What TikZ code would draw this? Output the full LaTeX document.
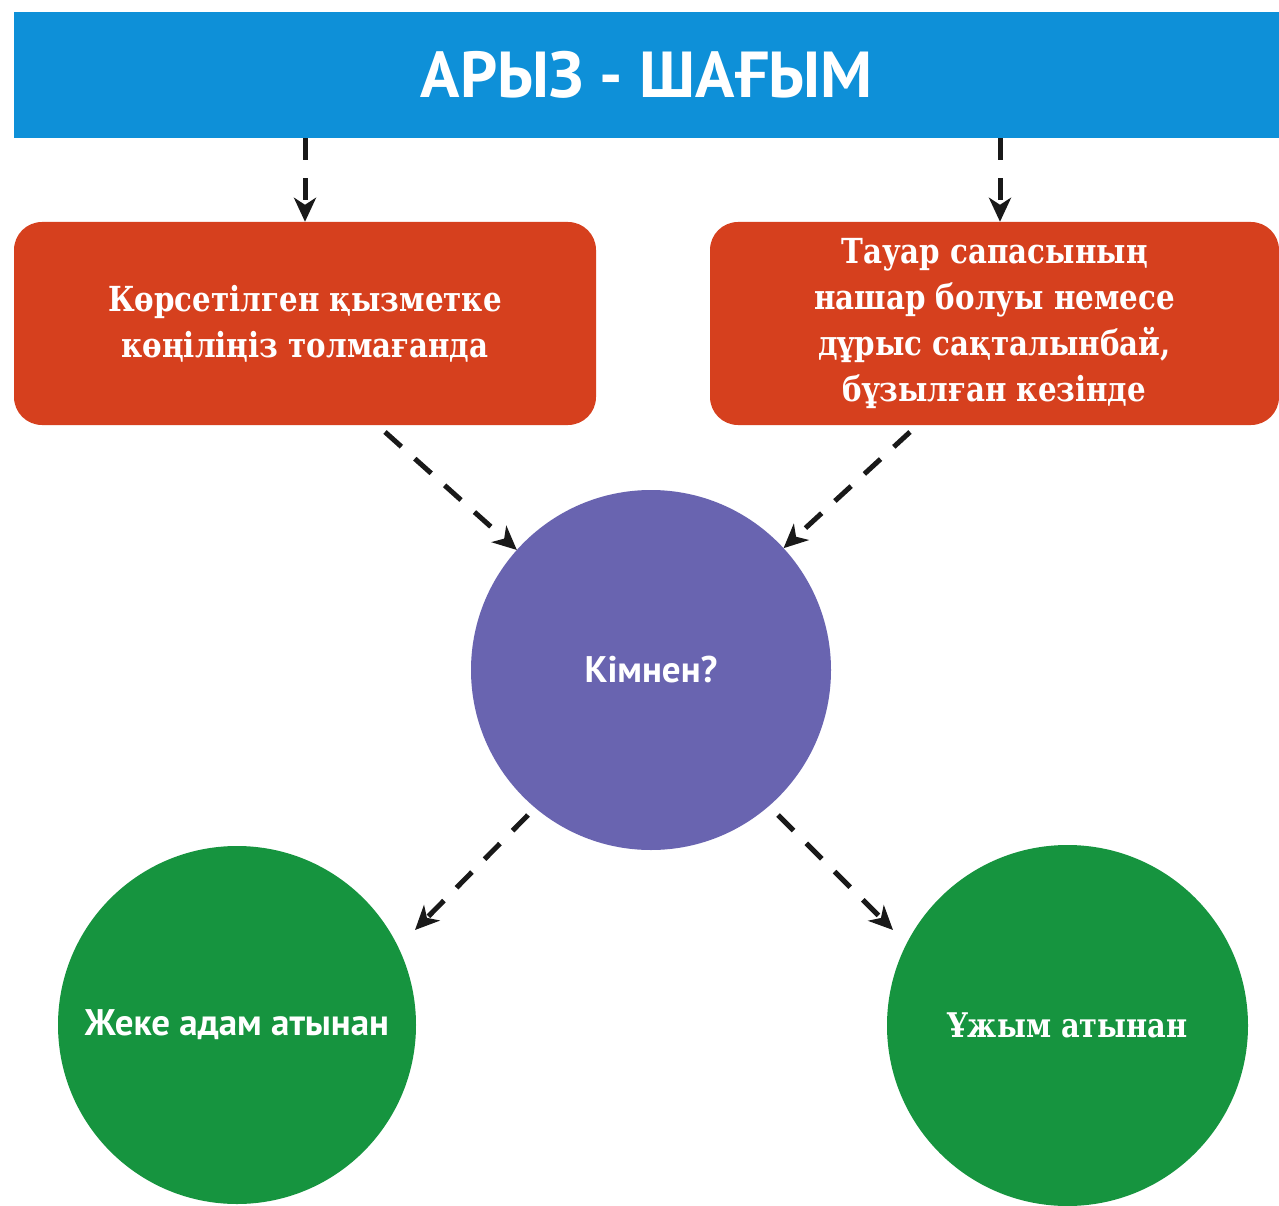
\documentclass[tikz,border=0pt]{standalone}
\usepackage{fontspec}
\setmainfont{PT Sans}
\newfontfamily\titlefont{PT Sans}
\newfontfamily\slabfont{DejaVu Serif}[FakeStretch=0.85]
\usetikzlibrary{arrows.meta}
\definecolor{barblue}{HTML}{0E90D8}
\definecolor{boxred}{HTML}{D6401E}
\definecolor{kimpurple}{HTML}{6964B0}
\definecolor{okgreen}{HTML}{16943F}
\tikzset{
  topbar/.style={fill=barblue, draw=none, minimum width=1265pt, minimum height=126pt, inner sep=0pt,
    text=white, font=\titlefont\bfseries\fontsize{65}{65}\selectfont},
  casebox/.style={fill=boxred, draw=none, rounded corners=28pt, inner sep=0pt, minimum height=203pt,
    text=white, align=center, font=\slabfont\bfseries\fontsize{34.5}{46}\selectfont},
  bigdisc/.style={circle, draw=none, inner sep=0pt, outer sep=0pt, text=white},
  flowarrow/.style={draw=black!90, line width=5pt, dash pattern=on 22pt off 18pt,
    -{Stealth[length=24pt,width=22pt,inset=7pt]}},
}
\begin{document}
\begin{tikzpicture}[x=1pt,y=-1pt]
\useasboundingbox[fill=white] (0,0) rectangle (1279,1206);

\node[topbar] (bar) at (646.5,75) {АРЫЗ - ШАҒЫМ};

\node[casebox, minimum width=582pt] (left) at (305,323.5)
  {Көрсетілген қызметке\\көңіліңіз толмағанда};
\node[casebox, minimum width=569pt] (right) at (994.5,323.5)
  {Тауар сапасының\\нашар болуы немесе\\дұрыс сақталынбай,\\бұзылған кезінде};

\node[bigdisc, fill=kimpurple, minimum size=360pt, font=\bfseries\fontsize{37}{37}\selectfont] (kim) at (651,670) {Кімнен?};

\node[bigdisc, fill=okgreen, minimum size=358pt, font=\bfseries\fontsize{37}{37}\selectfont] (person) at (237,1025) {Жеке адам атынан};
\node[bigdisc, fill=okgreen, minimum size=361pt, font=\slabfont\bfseries\fontsize{34}{34}\selectfont] (group) at (1067.5,1025.5) {Ұжым атынан};

% connector end points
\coordinate (lfrom) at (385,432);
\coordinate (rfrom) at (910,432);
\coordinate (kimsw) at (528,815);
\coordinate (kimse) at (778,815);
\coordinate (personne) at (415,930);
\coordinate (groupnw) at (893,930);

\draw[flowarrow] (bar.south -| 305,0) -- (left.north -| 305,0);
\draw[flowarrow] (bar.south -| 1000,0) -- (right.north -| 1000,0);
\draw[flowarrow] (lfrom) -- (kim);
\draw[flowarrow] (rfrom) -- (kim);
\draw[flowarrow] (kimsw) -- (personne);
\draw[flowarrow] (kimse) -- (groupnw);
\end{tikzpicture}
\end{document}
